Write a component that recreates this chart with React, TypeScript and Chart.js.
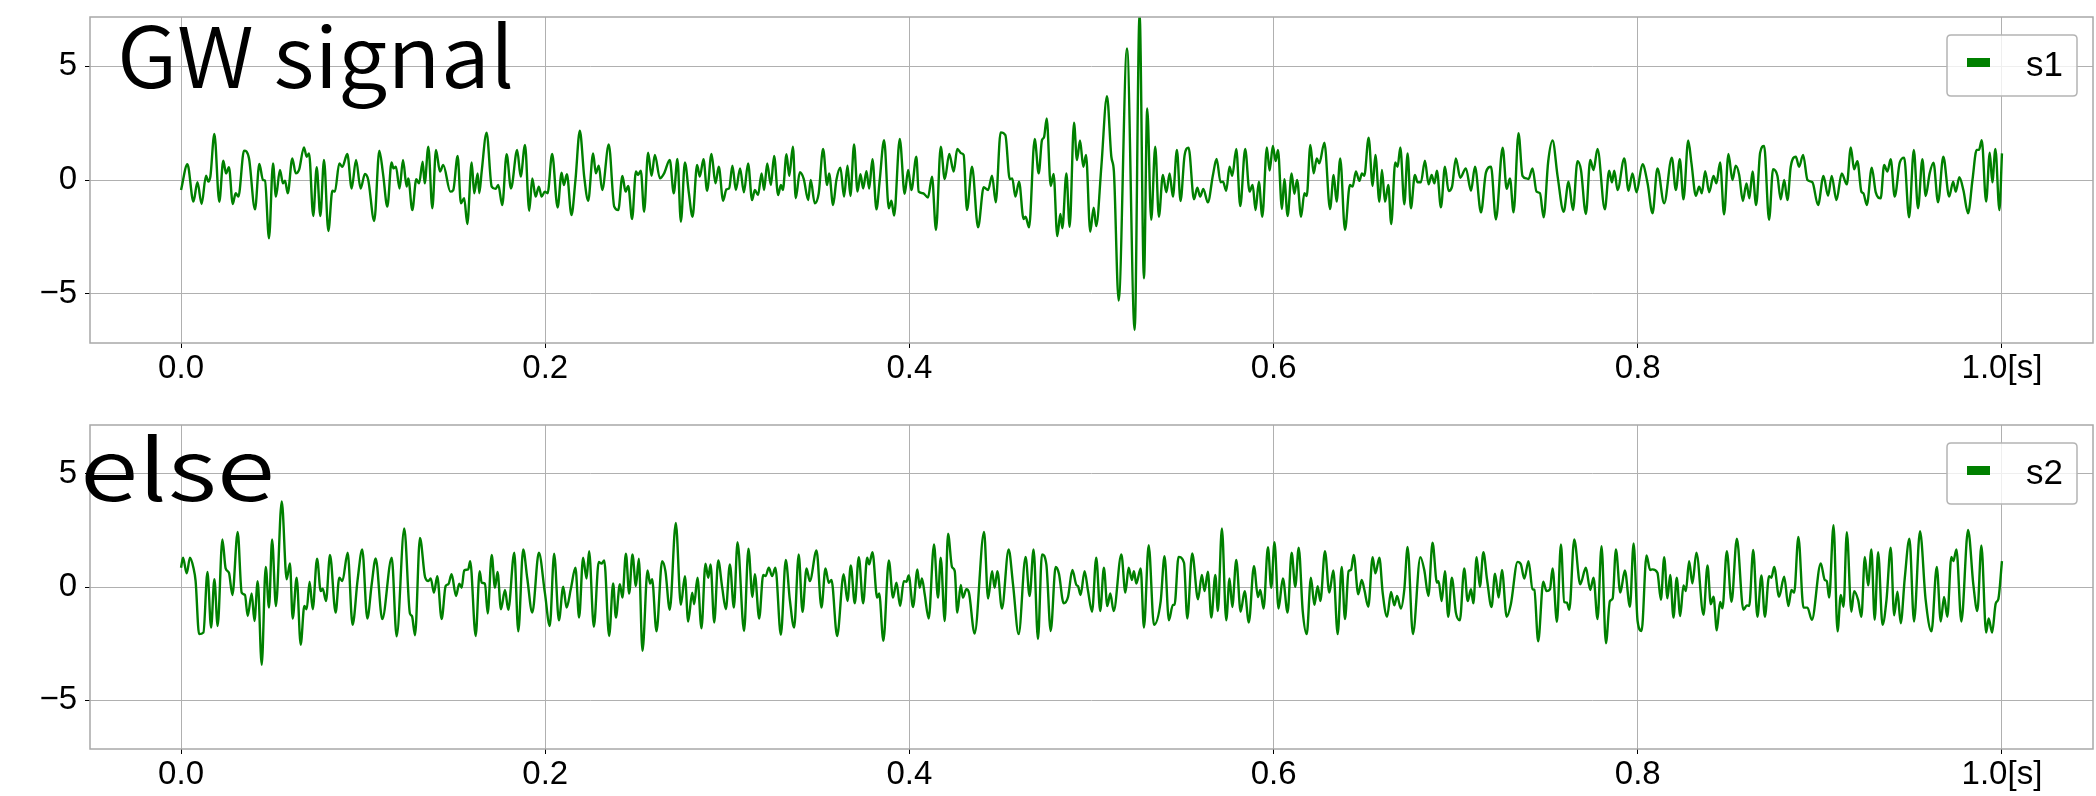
import React, { useEffect, useRef } from 'react';
import { Chart, registerables } from 'chart.js';

Chart.register(...registerables);

// ---- axis ticks ----
const xTickValues = [0, 0.2, 0.4, 0.6, 0.8, 1.0];
const xTickLabels = ['0.0', '0.2', '0.4', '0.6', '0.8', '1.0[s]'];
const yTickValues = [-5, 0, 5];
const yTickLabels = ['\u22125', '0', '5'];

// ---- series ----
const seriesLabels = ['s1', 's2'];
const panelTitles = ['GW signal', 'else'];

// [time in ms, amplitude]
const s1Samples: [number, number][] = [
  [0.0,-0.44],[3.5,0.69],[6.8,-0.95],[9.0,-0.10],[11.3,-1.05],[13.7,0.19],[15.0,-0.07],[16.1,0.15],[18.3,2.02],[21.0,-0.96],
  [23.2,0.85],[24.7,0.29],[26.3,0.56],[28.4,-1.05],[30.0,-0.58],[31.5,-0.73],[34.6,1.29],[37.3,0.95],[40.6,-1.29],[43.0,0.70],
  [45.0,0.0],[46.1,-0.03],[48.3,-2.56],[50.5,0.73],[52.1,-0.73],[54.3,0.44],[56.0,-0.15],[57.1,-0.03],[58.6,-0.58],[61.1,0.95],
  [63.0,0.29],[64.8,0.44],[67.5,1.43],[69.0,1.02],[70.3,1.17],[72.6,-1.58],[74.5,0.56],[76.5,-1.58],[78.5,0.88],[80.9,-2.24],
  [83.1,-0.47],[84.5,-0.51],[86.9,0.73],[88.6,0.58],[91.3,1.14],[93.7,-0.37],[96.1,0.88],[98.6,-0.37],[101.0,0.26],[102.8,0.0],
  [106.1,-1.80],[108.9,1.29],[110.9,0.29],[113.3,-1.17],[115.6,0.77],[116.7,0.51],[118.0,0.58],[120.0,-0.37],[121.9,0.88],[123.9,-0.29],
  [124.8,0.07],[127.0,-1.32],[129.2,0.04],[130.7,-0.15],[132.7,0.80],[133.8,-0.15],[135.8,1.46],[138.0,-1.24],[140.0,1.32],[142.2,0.37],
  [144.0,0.66],[147.9,-0.51],[149.5,-0.44],[151.9,1.05],[153.7,-1.02],[155.5,-0.80],[157.2,-1.93],[159.6,0.77],[161.0,-0.58],[162.9,0.29],
  [163.8,-0.58],[165.1,0.37],[167.8,2.08],[170.6,-0.29],[172.7,-0.39],[174.2,-0.22],[176.4,-1.10],[178.8,1.13],[181.2,-0.37],[184.6,1.32],
  [186.5,0.15],[188.9,1.54],[191.2,-1.35],[192.9,0.07],[194.7,-0.73],[196.5,-0.29],[198.0,-0.73],
  [199.8,-0.51],[201.3,-0.58],[203.8,1.14],[206.8,-1.21],[209.0,0.32],[210.2,-0.22],[211.9,0.25],[214.4,-1.54],[216.6,0.0],[219.0,2.16],
  [221.4,0.15],[223.6,-0.91],[226.3,1.17],[227.8,0.29],[229.4,0.63],[231.3,-0.44],[234.9,1.56],[237.9,-1.17],[240.1,-1.32],[242.4,0.18],
  [244.1,-0.51],[245.6,-0.26],[247.7,-1.71],[249.8,0.37],[251.0,0.22],[252.5,0.41],[254.3,-1.39],[256.5,1.20],[258.4,0.18],[260.2,1.10],
  [263.0,0.07],[265.3,0.29],[268.4,0.88],[270.6,-0.58],[272.6,0.92],[274.5,-1.83],[276.7,0.77],[278.9,-0.58],[280.9,-1.61],[283.4,0.66],
  [284.9,0.15],[286.9,0.91],[288.9,-0.47],[291.3,1.14],[293.5,-0.15],[295.3,0.58],[297.7,-0.91],[299.5,-0.41],[301.0,-0.37],[302.8,0.63],
  [304.7,-0.44],[307.0,0.51],[309.1,-0.54],[311.4,0.73],[313.6,-0.88],[315.1,-0.44],[316.9,-0.66],[318.8,0.29],[320.2,-0.44],[321.9,0.73],
  [323.9,-0.22],[325.7,1.05],[327.9,-0.66],[329.4,-0.22],[330.5,-0.44],[332.5,1.13],[334.0,0.18],[336.0,1.46],[337.6,-0.80],[339.8,0.34],
  [342.0,0.04],[344.4,-0.88],[345.8,0.0],[348.0,-1.02],[350.2,-0.58],[352.6,1.36],[354.8,-0.22],[355.9,0.29],[358.1,-1.10],[359.9,0.0],
  [362.1,0.54],[364.1,-0.73],[366.0,0.63],[367.6,-0.70],[369.6,1.56],[371.5,-0.51],[373.1,0.25],[374.6,-0.37],[376.4,0.39],[377.9,-0.37],
  [379.7,0.91],[381.9,-1.29],[383.7,0.0],[386.1,1.75],[388.7,-1.24],[390.1,-0.91],[391.6,-1.56],[394.7,1.80],[397.4,-0.61],[399.3,0.44],
  [401.1,-0.44],
  [403.8,1.02],[405.1,-0.51],[407.5,-0.58],[410.2,-0.77],[412.4,0.15],[414.6,-2.19],[417.2,1.46],[419.4,0.04],[421.9,1.14],[424.3,0.37],
  [426.3,1.36],[428.5,1.17],[429.8,1.10],[431.6,-1.32],[434.4,0.58],[437.7,-2.08],[440.8,-0.32],[443.2,-0.44],[445.4,0.19],[447.4,-0.98],
  [450.1,2.09],[452.7,1.97],[455.1,0.04],[456.5,0.07],[458.2,-0.73],[460.2,-0.07],[462.7,-1.71],[463.8,-1.61],[465.7,-2.08],[468.8,1.80],
  [471.0,0.29],[472.8,1.75],[473.9,1.87],[475.4,2.70],[477.6,-0.26],[479.2,0.26],[481.2,-2.46],[482.9,-1.49],[484.0,-2.12],[486.2,0.29],
  [488.0,-2.05],[490.4,2.51],[492.0,0.88],[493.7,1.73],[495.5,0.58],[497.0,1.10],[499.3,-2.27],[501.2,-1.21],[502.6,-2.02],[505.4,0.58],
  [508.5,3.68],[510.9,1.02],[512.3,0.37],[514.9,-5.29],[519.5,5.77],[523.7,-6.58],[526.4,7.3],[528.8,-4.31],[530.6,3.14],[532.8,-1.75],
  [535.0,1.46],[537.0,-1.61],[539.2,0.22],[541.1,-0.54],[542.9,0.29],[544.7,-0.73],[546.9,1.32],[548.9,-0.92],[551.1,1.07],[553.3,1.42],
  [556.3,-0.85],[558.1,-0.34],[559.7,-0.73],[561.4,-0.39],[563.9,-0.98],[566.7,0.22],[568.7,0.92],[570.9,-0.10],[572.2,-0.07],[574.0,-0.47],
  [575.8,0.58],[577.3,0.18],[579.5,1.36],[581.7,-1.14],[584.4,1.36],[586.8,-0.51],[588.5,-0.22],[590.1,-1.32],[591.9,-0.07],[593.8,-1.61],
  [596.3,1.43],[597.8,0.41],[599.6,1.49],[601.1,0.83],[602.4,1.32],[604.6,-1.27],
  [605.9,0.04],[607.7,-1.58],[609.9,0.29],[611.4,-0.61],[612.9,0.0],[615.1,-1.61],[616.9,-0.58],[618.2,-0.70],[620.2,1.54],[622.0,0.29],
  [623.7,0.95],[625.1,0.73],[627.9,1.64],[631.0,-1.27],[633.0,0.22],[634.6,-0.95],[636.6,0.95],[639.2,-2.19],[641.9,-0.22],[643.4,-0.29],
  [645.2,0.37],[647.1,-0.04],[648.5,0.29],[649.8,0.18],[652.2,1.86],[654.4,-0.26],[655.9,1.10],[658.1,-0.95],[659.5,0.44],[661.2,-0.95],
  [663.0,-0.22],[664.6,-1.93],[666.8,0.77],[668.1,0.58],[669.6,1.43],[671.8,-1.07],[673.6,1.17],[675.4,-1.24],[677.6,0.22],[679.1,-0.10],
  [680.9,-0.10],[683.1,0.85],[685.1,-0.19],[686.8,0.22],[688.3,-0.15],[689.7,0.41],[691.9,-1.20],[694.1,0.58],[696.1,-0.48],[698.0,-0.29],
  [700.1,0.95],[702.5,0.10],[705.6,0.51],[708.4,-0.47],[710.6,0.58],[713.9,-1.42],[716.6,0.32],[719.4,0.58],[722.1,-1.73],[725.8,1.42],
  [728.0,-0.39],[729.8,0.07],[731.8,-1.42],[734.5,2.05],[736.7,0.18],[738.9,0.07],[740.0,0.04],[742.2,0.51],[744.4,-0.51],[746.3,-0.58],
  [748.3,-1.64],[750.8,0.80],[753.2,1.73],[756.0,0.15],[759.3,-1.39],[762.0,-0.07],[764.4,-1.32],[766.9,0.83],[768.8,0.44],[771.5,-1.49],
  [773.9,0.88],[775.7,0.44],[777.9,1.36],[781.9,-1.29],[784.3,0.41],[785.8,-0.10],[787.1,0.41],[788.9,-0.44],[792.6,0.95],[794.9,-0.47],
  [797.1,0.29],[799.3,-0.54],[802.6,0.69],[805.4,-0.15],[808.1,-1.46],
  [810.8,0.51],[814.5,-1.02],[818.7,0.98],[820.9,-0.44],[823.1,0.91],[825.1,-0.85],[827.7,1.73],[829.5,0.73],[831.9,-0.69],[833.7,-0.29],
  [835.2,-0.58],[837.0,0.39],[839.2,-0.54],[841.6,0.18],[843.2,-0.15],[845.2,0.77],[847.4,-1.51],[849.8,1.14],[852.0,0.0],[853.8,0.63],
  [855.7,0.22],[857.7,-0.92],[859.7,-0.15],[861.3,-0.80],[863.0,0.37],[865.0,-1.10],[867.2,1.20],[869.4,1.49],[872.1,-1.75],[874.3,0.47],
  [876.7,0.18],[878.5,-0.85],[880.4,0.0],[882.2,-0.88],[884.0,0.58],[886.8,1.02],[888.6,0.58],[890.8,1.10],[893.2,0.0],[895.9,-0.10],
  [899.0,-1.10],[902.0,0.18],[904.5,-0.69],[906.5,0.18],[909.1,-0.88],[912.0,0.29],[914.8,-0.19],[917.0,1.43],[918.8,0.47],[920.6,0.83],
  [922.8,-0.51],[923.9,-0.58],[925.8,-1.10],[928.5,0.54],[930.7,-0.54],[933.4,-0.80],[935.3,0.66],[937.1,0.37],[938.9,0.91],[941.1,-0.73],
  [943.9,0.77],[946.3,0.98],[949.0,-1.64],[951.6,1.32],[953.9,-1.24],[956.3,0.91],[958.1,-0.70],[960.3,0.29],[962.4,0.76],[964.9,-0.98],
  [967.8,1.02],[971.0,-0.73],[973.2,-0.07],[974.6,-0.51],[976.6,0.12],[978.8,-0.44],[981.4,-1.46],[983.8,0.0],[986.1,1.32],[987.4,1.32],
  [988.9,1.75],[991.3,-0.95],[993.3,1.20],[994.7,-0.10],[996.4,1.36],[998.6,-1.32],[1000.0,1.17],
];

const s2Samples: [number, number][] = [
  [0.0,0.85],[1.1,1.29],[3.1,0.60],[4.9,1.29],[6.8,0.85],[8.0,0.26],[9.9,-2.08],[12.3,-2.01],[14.5,0.66],[16.5,-1.79],
  [18.3,0.34],[20.1,-1.72],[22.7,2.10],[24.5,0.82],[26.3,0.63],[28.2,-0.35],[31.1,2.43],[33.3,-0.25],[35.1,-0.35],[36.6,-1.28],
  [38.8,-0.28],[40.3,-1.50],[42.1,0.26],[44.3,-3.43],[46.5,0.89],[48.3,-0.91],[50.0,2.10],[52.1,-0.84],[55.3,3.78],[58.0,0.34],
  [59.8,1.04],[61.3,-1.39],[63.5,0.41],[65.7,-2.55],[67.7,-0.84],[69.0,-0.98],[70.6,0.23],[72.3,-0.98],[74.7,1.25],[76.7,-0.18],
  [77.8,-0.07],[79.6,-0.62],[81.8,1.41],[84.9,-1.13],[86.9,0.41],[88.6,0.26],[91.5,1.51],[94.2,-1.67],[97.0,0.34],[99.5,1.66],
  [102.3,-1.39],[104.7,0.12],[106.9,1.26],[110.5,-1.42],[115.7,1.29],[118.4,-2.18],[122.6,2.58],[125.7,-1.17],[126.8,-1.28],[128.5,-2.13],
  [131.2,2.17],[134.0,0.44],[135.8,0.26],[137.1,0.38],[138.9,-0.25],[140.7,0.48],[143.1,-1.42],[145.3,0.04],[146.8,0.12],[148.6,0.56],
  [151.0,-0.40],[152.8,0.15],[154.1,-0.03],[155.5,0.73],[157.7,0.78],[158.8,1.14],[161.8,-2.16],[164.0,0.70],[165.1,0.19],[166.9,0.15],
  [168.4,-1.17],[170.6,1.41],[172.4,-0.03],[173.8,0.66],[175.7,-0.98],[177.9,-0.13],[179.7,-1.01],[183.0,1.51],[185.2,-1.96],[187.9,1.66],
  [190.1,0.41],[192.9,-1.13],[196.5,1.51],[199.8,-0.25],
  [202.5,-1.72],[204.9,1.47],[207.5,-1.47],[209.9,0.01],[211.7,-0.91],[214.1,-0.07],[216.6,0.85],[218.6,-1.35],[220.8,1.29],[222.7,0.37],
  [224.1,1.58],[226.7,-1.76],[229.4,1.11],[230.9,1.03],[232.4,1.17],[235.1,-2.16],[237.3,0.16],[238.8,-1.35],[241.0,0.12],[242.4,-0.47],
  [244.3,1.47],[246.1,-0.29],[247.9,1.44],[249.8,0.04],[251.4,1.25],[253.4,-2.82],[256.2,0.73],[257.6,0.15],[258.7,0.34],[261.1,-1.96],
  [264.2,1.14],[266.0,0.70],[268.4,-1.01],[271.7,2.83],[274.5,-0.79],[276.7,0.48],[278.5,-1.52],[280.7,-0.25],[281.8,-0.76],[283.6,0.41],
  [285.8,-1.82],[288.0,1.03],[289.5,0.41],[290.8,1.00],[292.8,-1.57],[295.0,1.17],[297.2,-0.03],[299.2,-0.98],[301.4,1.00],[303.6,-0.91],
  [305.6,1.98],[309.2,-1.94],[311.6,1.69],[313.8,-0.44],[315.1,0.56],[317.5,-1.39],[319.7,0.53],[321.0,0.48],[322.8,0.85],[324.6,0.48],
  [326.4,0.85],[329.4,-2.11],[332.1,1.19],[334.3,-0.54],[336.7,-1.79],[339.2,1.44],[341.3,-1.10],[343.5,0.82],[345.3,0.26],[349.0,1.61],
  [351.7,-0.91],[353.9,0.82],[355.7,0.19],[357.2,0.31],[360.3,-2.16],[363.9,0.56],[366.0,-0.62],[367.8,0.95],[370.0,-0.72],[372.2,1.32],
  [374.6,-0.72],[376.8,1.29],[377.9,1.00],[379.7,1.54],[382.3,-0.47],[383.4,-0.29],[385.7,-2.38],[388.7,1.17],[391.0,-0.47],[392.9,0.19],
  [394.9,-0.84],[396.9,0.26],[398.4,0.23],[399.6,0.51],[402.0,-0.88],
  [404.4,0.78],[405.6,-0.03],[406.9,0.38],[408.4,-0.32],[410.6,-1.39],[413.5,1.88],[415.7,-0.47],[417.2,1.29],[419.4,-1.50],[421.2,2.35],
  [423.4,0.88],[424.9,0.70],[426.3,-1.13],[428.2,0.09],[429.4,-0.47],[431.3,-0.10],[432.7,-0.25],[435.8,-2.05],[441.0,2.43],
  [443.2,-0.51],[445.4,0.70],[446.8,-0.03],[448.3,0.70],[450.8,-0.95],[454.5,1.66],[456.9,0.12],[460.0,-2.08],[463.8,1.33],[466.0,-0.40],
  [468.2,1.66],[470.6,-2.30],[472.8,1.44],[475.2,1.00],[477.6,-1.94],[480.3,0.88],[482.1,0.59],[484.7,-0.72],[487.1,-0.44],[489.5,0.75],
  [491.7,0.09],[492.6,0.04],[494.0,-0.35],[496.2,0.70],[498.1,-0.18],[500.3,-1.09],[502.6,1.29],[504.8,-1.06],[506.8,0.85],[508.7,-0.84],
  [510.3,-0.29],[512.2,-1.06],[516.4,1.44],[518.6,-0.25],[520.4,0.85],[522.2,0.31],[523.3,0.70],[524.6,0.15],[527.0,0.82],[528.8,-1.79],
  [531.4,1.85],[534.3,-1.67],[538.0,-0.62],[540.1,1.36],[542.5,-1.47],[544.7,-0.79],[545.6,-0.79],[547.8,1.33],[550.8,1.07],[552.6,-1.39],
  [555.3,1.48],[558.5,-0.54],[560.6,0.53],[562.1,-0.18],[563.9,0.67],[565.8,-1.35],[568.0,0.53],[569.4,-1.06],[571.6,2.58],[574.0,-1.47],
  [575.8,0.38],[577.3,-0.88],[579.5,1.19],[581.9,-1.09],[584.1,-0.18],[586.4,-1.57],[589.2,0.92],[591.4,-0.44],[592.7,-0.13],[594.5,-0.95],
  [596.9,1.76],[598.7,-0.03],[600.5,1.98],[602.7,-0.95],[605.1,0.38],
  [607.7,-1.13],[609.9,1.51],[611.9,0.01],[613.8,1.73],[616.0,-1.06],[618.2,-2.08],[620.5,0.41],[622.4,-0.79],[624.2,0.04],[625.7,-0.62],
  [628.2,1.58],[630.6,-0.25],[632.8,0.73],[635.2,-2.08],[637.4,0.89],[639.2,-1.42],[641.2,0.70],[642.5,0.75],[644.0,1.41],[646.5,-0.32],
  [648.4,0.31],[649.8,-0.10],[652.0,-0.87],[654.4,1.32],[655.9,0.60],[658.1,1.29],[659.9,-0.25],[662.3,-1.31],[664.5,-0.22],[666.3,-0.81],
  [667.8,-0.40],[669.9,-0.95],[671.8,-0.10],[673.6,1.77],[676.5,-2.08],[680.6,1.32],[682.8,0.73],[685.0,-0.40],[687.3,1.95],[689.7,0.19],
  [690.6,0.26],[692.3,-0.62],[694.1,0.70],[695.9,-1.31],[697.9,0.41],[700.1,-1.13],[702.3,-1.47],[704.7,0.82],[706.6,-0.62],[708.4,-0.10],
  [709.7,-0.72],[711.5,1.32],[713.3,0.01],[715.2,1.54],[717.2,0.34],[719.7,-0.88],[721.6,0.59],[723.6,-0.47],[725.4,0.75],[728.0,-1.31],
  [730.3,-0.76],[734.0,1.11],[735.8,1.00],[737.7,0.37],[740.0,1.14],[742.2,-0.10],[743.2,-0.13],[745.3,-2.40],[748.1,0.23],[749.9,-0.18],
  [751.8,-0.10],[753.2,0.82],[755.6,-1.54],[757.8,1.88],[759.6,-0.66],[761.1,-0.69],[762.4,-1.01],[765.1,2.10],[768.4,0.12],[771.5,0.85],
  [773.9,-0.13],[775.7,0.41],[777.9,-1.42],[780.1,1.80],[782.5,-2.48],[784.7,-0.62],[786.2,-0.51],[788.0,1.66],[790.4,-0.25],[792.9,0.73],
  [795.7,-0.87],[797.7,1.92],[799.9,-1.50],[802.1,-1.94],[804.8,1.39],[806.8,0.75],[808.1,0.78],
  [810.8,0.63],[812.7,-0.57],[814.5,1.32],[816.3,-0.50],[817.8,0.53],[819.6,-1.35],[821.4,0.41],[823.3,-1.28],[825.1,0.07],[826.4,-0.18],
  [828.2,1.14],[830.0,0.16],[832.2,1.51],[836.1,-1.23],[838.3,0.95],[840.1,-0.76],[841.6,-0.43],[843.4,-1.91],[845.2,-0.66],[846.5,-0.94],
  [848.9,1.58],[851.5,-0.65],[854.4,2.13],[858.0,-1.01],[859.9,-0.81],[861.2,-0.84],[863.4,1.63],[865.7,-1.32],[867.9,0.51],[869.8,-1.31],
  [872.1,0.48],[873.4,0.41],[874.9,0.89],[877.6,-0.43],[880.4,0.45],[882.7,-0.84],[884.4,-0.13],[885.9,-0.25],[888.2,2.21],[891.0,-0.91],
  [893.2,-0.91],[895.6,-1.45],[900.5,1.04],[902.7,0.31],[903.8,0.26],[905.1,-0.47],[907.5,2.73],[909.7,-1.96],[911.5,-0.35],[913.0,-0.87],
  [914.8,2.42],[917.3,-1.09],[918.8,-0.18],[921.0,-0.57],[922.8,-1.31],[924.7,1.33],[926.5,0.07],[928.3,1.66],[930.1,-1.45],[932.0,1.54],
  [934.4,-1.67],[936.6,-0.57],[938.9,1.73],[940.8,-1.25],[942.6,-0.21],[944.4,-1.60],[946.6,0.37],[949.2,2.13],[951.7,-1.52],[955.0,2.46],
  [958.1,-0.57],[961.3,-1.96],[964.2,0.89],[966.4,-1.52],[968.2,-0.44],[970.0,-1.32],[972.2,1.33],[973.3,1.14],[975.0,1.66],[977.7,-1.52],
  [981.4,2.52],[984.3,0.09],[986.5,-1.06],[988.7,1.83],[991.3,-2.01],[992.7,-1.39],[994.6,-2.01],[996.6,-0.72],[998.0,-0.54],[1000.0,1.14],
];

const CANVAS_W = 2096;
const CANVAS_H = 398;
const LINE_COLOR = '#008000';
const GRID_COLOR = '#b0b0b0';
const SPINE_COLOR = '#a8a8a8';
const TICK_FONT = { family: '"Liberation Sans", Arial, sans-serif', size: 33 };
const TITLE_FONT = '350 84px "Noto Sans CJK JP", "Noto Sans", sans-serif';

type PanelOpts = {
  padTop: number;
  xAxisHeight: number;
  titleDx: number;
  titleDy: number;
  titleStretch: number;
};

function buildChart(
  canvas: HTMLCanvasElement,
  samples: [number, number][],
  label: string,
  title: string,
  opts: PanelOpts
) {
  const overlay = {
    id: 'overlay',
    afterDraw(chart: any) {
      const { ctx, chartArea: a } = chart;
      ctx.save();
      // frame
      ctx.strokeStyle = SPINE_COLOR;
      ctx.lineWidth = 1.5;
      ctx.strokeRect(a.left, a.top, a.right - a.left, a.bottom - a.top);
      // panel title
      ctx.save();
      ctx.fillStyle = '#000';
      ctx.font = TITLE_FONT;
      ctx.textAlign = 'left';
      ctx.textBaseline = 'alphabetic';
      ctx.translate(a.left + opts.titleDx, a.top + opts.titleDy);
      ctx.scale(opts.titleStretch, 1);
      ctx.fillText(title, 0, 0);
      ctx.restore();
      // legend
      const bw = 130, bh = 61;
      const bx = a.right - 146, by = a.top + 18;
      const r = 4;
      ctx.beginPath();
      ctx.moveTo(bx + r, by);
      ctx.lineTo(bx + bw - r, by);
      ctx.quadraticCurveTo(bx + bw, by, bx + bw, by + r);
      ctx.lineTo(bx + bw, by + bh - r);
      ctx.quadraticCurveTo(bx + bw, by + bh, bx + bw - r, by + bh);
      ctx.lineTo(bx + r, by + bh);
      ctx.quadraticCurveTo(bx, by + bh, bx, by + bh - r);
      ctx.lineTo(bx, by + r);
      ctx.quadraticCurveTo(bx, by, bx + r, by);
      ctx.closePath();
      ctx.fillStyle = 'rgba(255,255,255,0.8)';
      ctx.fill();
      ctx.strokeStyle = '#b4b4b4';
      ctx.lineWidth = 1.5;
      ctx.stroke();
      ctx.fillStyle = chart.data.datasets[0].borderColor;
      ctx.fillRect(bx + 20, by + 23, 23, 9);
      ctx.fillStyle = '#000';
      ctx.font = '35px "Liberation Sans", Arial, sans-serif';
      ctx.textBaseline = 'alphabetic';
      ctx.fillText(chart.data.datasets[0].label, bx + 79, by + 41);
      ctx.restore();
    },
  };

  return new Chart(canvas, {
    type: 'line',
    data: {
      datasets: [
        {
          label,
          data: samples.map(([t, v]) => ({ x: t / 1000, y: v })),
          borderColor: LINE_COLOR,
          borderWidth: 2.4,
          pointRadius: 0,
          fill: false,
          cubicInterpolationMode: 'monotone',
        },
      ],
    },
    options: {
      animation: false,
      responsive: false,
      events: [],
      layout: { padding: { left: 0, right: 3, top: opts.padTop, bottom: 0 } },
      plugins: { legend: { display: false }, tooltip: { enabled: false }, title: { display: false } },
      scales: {
        x: {
          type: 'linear',
          min: -0.05,
          max: 1.05,
          afterBuildTicks: (s: any) => {
            s.ticks = xTickValues.map((v) => ({ value: v }));
          },
          afterFit: (s: any) => {
            s.height = opts.xAxisHeight;
            s.paddingLeft = 0;
            s.paddingRight = 0;
          },
          ticks: {
            autoSkip: false,
            maxRotation: 0,
            color: '#000',
            font: TICK_FONT,
            padding: 1,
            callback: (v: any) => {
              const i = xTickValues.findIndex((t) => Math.abs(t - Number(v)) < 1e-9);
              return i >= 0 ? xTickLabels[i] : '';
            },
          },
          grid: { color: GRID_COLOR, lineWidth: 1, tickLength: 5, tickColor: '#000', drawTicks: true },
          border: { display: false },
        },
        y: {
          type: 'linear',
          min: -7.15,
          max: 7.15,
          afterBuildTicks: (s: any) => {
            s.ticks = yTickValues.map((v) => ({ value: v }));
          },
          afterFit: (s: any) => {
            s.width = 90;
            s.paddingTop = 0;
            s.paddingBottom = 0;
          },
          ticks: {
            autoSkip: false,
            color: '#000',
            font: TICK_FONT,
            padding: 8,
            callback: (v: any) => {
              const i = yTickValues.findIndex((t) => Math.abs(t - Number(v)) < 1e-9);
              return i >= 0 ? yTickLabels[i] : '';
            },
          },
          grid: { color: GRID_COLOR, lineWidth: 1, tickLength: 5, tickColor: '#000', drawTicks: true },
          border: { display: false },
        },
      },
    },
    plugins: [overlay],
  } as any);
}

export default function App() {
  const topRef = useRef<HTMLCanvasElement>(null);
  const botRef = useRef<HTMLCanvasElement>(null);

  useEffect(() => {
    const c1 = buildChart(topRef.current!, s1Samples, seriesLabels[0], panelTitles[0], {
      padTop: 17,
      xAxisHeight: 55,
      titleDx: 27,
      titleDy: 70.5,
      titleStretch: 1.05,
    });
    const c2 = buildChart(botRef.current!, s2Samples, seriesLabels[1], panelTitles[1], {
      padTop: 27,
      xAxisHeight: 47,
      titleDx: -10,
      titleDy: 76,
      titleStretch: 1.26,
    });
    return () => {
      c1.destroy();
      c2.destroy();
    };
  }, []);

  return (
    <div style={{ position: 'absolute', left: 0, top: 0, width: CANVAS_W, height: CANVAS_H * 2, background: '#fff' }}>
      <canvas ref={topRef} width={CANVAS_W} height={CANVAS_H} style={{ position: 'absolute', left: 0, top: 0 }} />
      <canvas ref={botRef} width={CANVAS_W} height={CANVAS_H} style={{ position: 'absolute', left: 0, top: CANVAS_H }} />
    </div>
  );
}
